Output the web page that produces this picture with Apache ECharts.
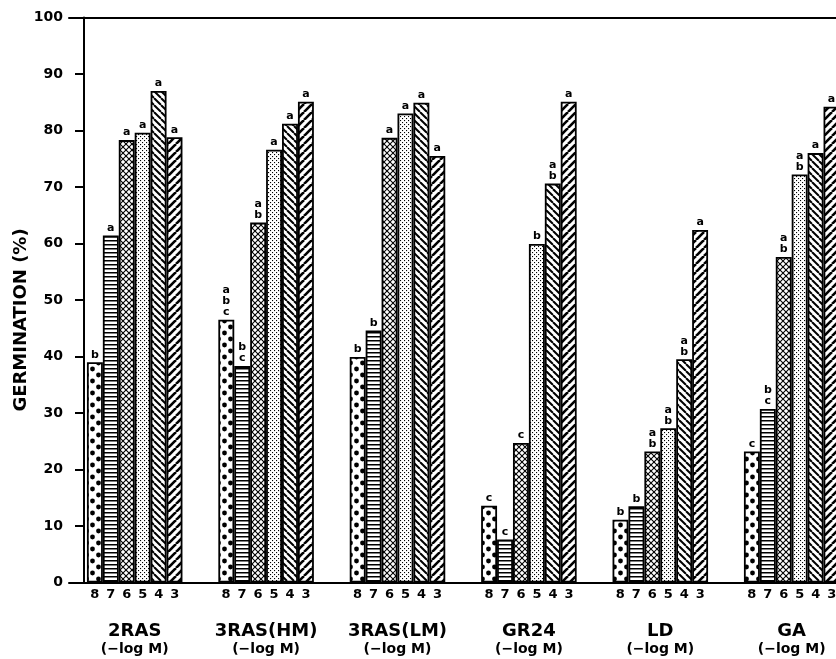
<!DOCTYPE html>
<html>
<head>
<meta charset="utf-8">
<script src="https://cdn.jsdelivr.net/npm/echarts@6/dist/echarts.min.js"></script>
<style>html,body{margin:0;padding:0;background:#fff;}#c{width:836px;height:659px;}</style>
</head>
<body>
<div id="c"></div>
<script>
// ---- data ----
const groups = ['2RAS', '3RAS(HM)', '3RAS(LM)', 'GR24', 'LD', 'GA'];
const concentrations = ['8', '7', '6', '5', '4', '3'];
const subLabel = '(−log M)';
const yTicks = [0, 10, 20, 30, 40, 50, 60, 70, 80, 90, 100];
const yTitle = 'GERMINATION (%)';

const c8 = [39.0, 46.5, 39.9, 13.6, 11.1, 23.2];
const c7 = [61.4, 38.3, 44.6, 7.6, 13.5, 30.7];
const c6 = [78.3, 63.7, 78.7, 24.7, 23.2, 57.6];
const c5 = [79.6, 76.6, 83.0, 59.9, 27.3, 72.2];
const c4 = [87.0, 81.2, 84.9, 70.6, 39.5, 76.0];
const c3 = [78.8, 85.1, 75.5, 85.1, 62.4, 84.2];

const l8 = ['b', 'a\nb\nc', 'b', 'c', 'b', 'c'];
const l7 = ['a', 'b\nc', 'b', 'c', 'b', 'b\nc'];
const l6 = ['a', 'a\nb', 'a', 'c', 'a\nb', 'a\nb'];
const l5 = ['a', 'a', 'a', 'b', 'a\nb', 'a\nb'];
const l4 = ['a', 'a', 'a', 'a\nb', 'a\nb', 'a'];
const l3 = ['a', 'a', 'a', 'a', 'a', 'a'];

const values = [c8, c7, c6, c5, c4, c3];
const letters = [l8, l7, l6, l5, l4, l3];

// ---- patterns ----
function makePattern(w, h, draw) {
  const c = document.createElement('canvas');
  c.width = w; c.height = h;
  const ctx = c.getContext('2d');
  ctx.fillStyle = '#fff'; ctx.fillRect(0, 0, w, h);
  ctx.fillStyle = '#000'; ctx.strokeStyle = '#000';
  draw(ctx, w, h);
  return { image: c, repeat: 'repeat' };
}
const pDots = makePattern(12, 12, (ctx) => {
  ctx.beginPath(); ctx.arc(2.5, 3, 2.4, 0, Math.PI * 2); ctx.fill();
  ctx.beginPath(); ctx.arc(8.5, 9, 2.4, 0, Math.PI * 2); ctx.fill();
});
const pHoriz = makePattern(4, 4, (ctx) => { ctx.fillRect(0, 0, 4, 1.5); });
const pCross = makePattern(6, 6, (ctx, w, h) => {
  ctx.lineWidth = 1.1;
  for (const o of [-w, 0, w]) {
    ctx.beginPath(); ctx.moveTo(o, 0); ctx.lineTo(o + w, h); ctx.stroke();
    ctx.beginPath(); ctx.moveTo(o, h); ctx.lineTo(o + w, 0); ctx.stroke();
  }
});
const pStipple = makePattern(4, 4, (ctx) => {
  ctx.fillRect(0, 0, 1.1, 1.1); ctx.fillRect(2, 2, 1.1, 1.1);
});
const pBack = makePattern(7, 7, (ctx, w, h) => {
  ctx.lineWidth = 2;
  for (const o of [-w, 0, w]) { ctx.beginPath(); ctx.moveTo(o, 0); ctx.lineTo(o + w, h); ctx.stroke(); }
});
const pFwd = makePattern(8, 8, (ctx, w, h) => {
  ctx.lineWidth = 2.6;
  for (const o of [-w, 0, w]) { ctx.beginPath(); ctx.moveTo(o, h); ctx.lineTo(o + w, 0); ctx.stroke(); }
});
const patterns = [pDots, pHoriz, pCross, pStipple, pBack, pFwd];

const FF = '"DejaVu Sans", sans-serif';

const chart = echarts.init(document.getElementById('c'), null, { renderer: 'canvas' });

const series = concentrations.map((c, i) => ({
  type: 'bar',
  name: c,
  data: values[i],
  barGap: '0%',
  barCategoryGap: '27.3%',
  silent: true,
  itemStyle: { color: patterns[i], borderColor: '#000', borderWidth: 1.8 },
  label: {
    show: true, position: 'top', distance: 2,
    formatter: (p) => letters[i][p.dataIndex],
    fontFamily: FF, fontWeight: 'bold', fontSize: 11, lineHeight: 11, color: '#000'
  }
}));

const digitStr = concentrations.map(d => '{d|' + d + '}').join('');

chart.setOption({
  animation: false,
  backgroundColor: '#fff',
  grid: { left: 69, right: -21.4, top: 17.5, bottom: 76.5, outerBoundsMode: 'none', containLabel: false },
  xAxis: [
    {
      type: 'category', data: groups, position: 'bottom',
      axisLine: { show: true, lineStyle: { color: '#000', width: 2 } },
      axisTick: { show: false },
      axisLabel: {
        interval: 0, margin: 4, hideOverlap: false,
        formatter: (v) => digitStr + '\n{sp| }\n{n|' + v + '}\n{s|' + subLabel + '}',
        rich: {
          d: { width: 16, align: 'center', fontSize: 13, fontWeight: 'bold', fontFamily: FF, color: '#000', lineHeight: 16 },
          sp: { fontSize: 10, lineHeight: 19 },
          n: { fontSize: 18, fontWeight: 'bold', fontFamily: FF, color: '#000', lineHeight: 20 },
          s: { fontSize: 14, fontWeight: 'bold', fontFamily: FF, color: '#000', lineHeight: 15 }
        }
      }
    },
    {
      type: 'category', data: groups, position: 'top',
      axisLine: { show: true, onZero: false, lineStyle: { color: '#000', width: 2 } },
      axisTick: { show: false }, axisLabel: { show: false }
    }
  ],
  yAxis: {
    type: 'value', min: yTicks[0], max: yTicks[yTicks.length - 1], interval: 10,
    offset: -15,
    axisLine: { show: true, lineStyle: { color: '#000', width: 2 } },
    axisTick: { show: true, length: 9, lineStyle: { color: '#000', width: 2 } },
    axisLabel: { margin: 21, fontSize: 14, fontWeight: 'bold', fontFamily: FF, color: '#000' },
    splitLine: { show: false }
  },
  graphic: [{
    type: 'text', x: 21, y: 320, rotation: Math.PI / 2,
    style: { text: yTitle, fontSize: 18, fontWeight: 'bold', fontFamily: FF, fill: '#000', align: 'center', verticalAlign: 'middle' }
  }],
  series: series
});
</script>
</body>
</html>
